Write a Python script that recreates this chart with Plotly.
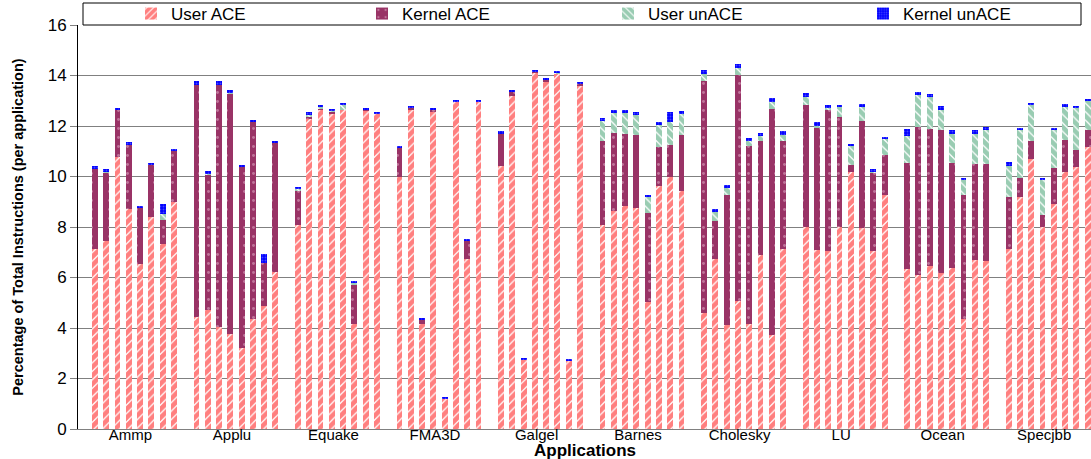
import plotly.graph_objects as go

apps = ["Ammp", "Applu", "Equake", "FMA3D", "Galgel", "Barnes", "Cholesky", "LU", "Ocean", "Specjbb"]
series_names = ["User ACE", "Kernel ACE", "User unACE", "Kernel unACE"]

user_ace = [
    7.13, 7.46, 10.77, 8.72, 6.55, 8.38, 7.34, 9.00,
    4.42, 4.70, 4.05, 3.77, 3.19, 4.36, 4.86, 6.23,
    8.06, 12.28, 12.67, 12.49, 12.65, 4.16, 12.62, 12.47,
    9.98, 12.67, 4.17, 12.55, 1.19, 12.94, 6.73, 12.98,
    10.43, 13.20, 2.72, 14.10, 13.75, 14.07, 2.68, 13.61,
    8.06, 8.63, 8.82, 8.76, 5.03, 9.64, 9.98, 9.44,
    4.59, 6.73, 4.13, 5.08, 4.17, 6.88, 3.73, 7.13,
    8.00, 7.10, 7.06, 8.00, 10.16, 7.96, 7.06, 9.28,
    6.34, 6.10, 6.44, 6.18, 6.38, 4.36, 6.70, 6.67,
    7.13, 9.17, 10.69, 8.00, 8.92, 10.19, 10.36, 11.17,
]
kernel_ace = [
    3.17, 2.70, 1.88, 2.54, 2.19, 2.07, 0.95, 2.00,
    9.19, 5.37, 9.56, 9.50, 7.17, 7.78, 1.71, 5.10,
    1.39, 0.10, 0.03, 0.08, 0.00, 1.58, 0.02, 0.00,
    1.16, 0.05, 0.16, 0.08, 0.00, 0.00, 0.73, 0.00,
    1.27, 0.15, 0.00, 0.04, 0.11, 0.00, 0.00, 0.06,
    3.33, 3.10, 2.88, 2.90, 3.51, 1.53, 1.28, 2.22,
    9.18, 1.52, 5.12, 8.95, 7.02, 4.51, 8.96, 4.26,
    4.82, 4.85, 5.56, 4.34, 0.31, 4.22, 3.08, 1.58,
    4.19, 5.88, 5.44, 5.67, 4.15, 4.92, 3.81, 3.84,
    2.07, 0.79, 0.70, 0.49, 1.40, 1.24, 0.70, 0.66,
]
user_unace = [
    0.00, 0.03, 0.00, 0.00, 0.00, 0.00, 0.24, 0.00,
    0.00, 0.04, 0.00, 0.05, 0.00, 0.00, 0.00, 0.00,
    0.05, 0.06, 0.07, 0.04, 0.19, 0.03, 0.00, 0.00,
    0.00, 0.00, 0.00, 0.00, 0.00, 0.00, 0.00, 0.00,
    0.00, 0.00, 0.00, 0.00, 0.00, 0.05, 0.00, 0.00,
    0.79, 0.78, 0.81, 0.77, 0.63, 0.88, 0.91, 0.83,
    0.30, 0.33, 0.28, 0.28, 0.23, 0.23, 0.26, 0.27,
    0.33, 0.06, 0.08, 0.40, 0.75, 0.56, 0.05, 0.66,
    1.09, 1.23, 1.27, 0.80, 1.17, 0.57, 1.19, 1.34,
    1.20, 1.89, 1.43, 1.36, 1.53, 1.31, 1.65, 1.15,
]
kernel_unace = [
    0.10, 0.09, 0.07, 0.09, 0.08, 0.08, 0.39, 0.08,
    0.18, 0.12, 0.18, 0.12, 0.11, 0.11, 0.37, 0.09,
    0.10, 0.10, 0.07, 0.07, 0.08, 0.08, 0.08, 0.08,
    0.08, 0.08, 0.05, 0.08, 0.09, 0.08, 0.08, 0.04,
    0.09, 0.09, 0.09, 0.05, 0.04, 0.07, 0.09, 0.08,
    0.15, 0.14, 0.14, 0.14, 0.11, 0.12, 0.40, 0.12,
    0.16, 0.14, 0.14, 0.16, 0.10, 0.11, 0.16, 0.13,
    0.16, 0.15, 0.14, 0.10, 0.07, 0.12, 0.12, 0.06,
    0.27, 0.15, 0.10, 0.13, 0.13, 0.09, 0.13, 0.13,
    0.19, 0.08, 0.10, 0.08, 0.08, 0.12, 0.09, 0.09,
]

BARS_PER_APP = 8
SLOTS_PER_APP = BARS_PER_APP + 1
xpos = [g * SLOTS_PER_APP + j for g in range(len(apps)) for j in range(BARS_PER_APP)]
tick_pos = [g * SLOTS_PER_APP + (BARS_PER_APP - 1) / 2 - 0.35 for g in range(len(apps))]

styles = [
    dict(color="white", pattern=dict(shape="/", fgcolor="#ff0000", bgcolor="white", size=6, solidity=0.8)),
    dict(color="#993366", pattern=dict(shape=".", fgcolor="#e8b8d0", bgcolor="#993366", size=9, solidity=0.08)),
    dict(color="white", pattern=dict(shape="\\", fgcolor="#339966", bgcolor="white", size=6, solidity=0.8)),
    dict(color="#0000ff", pattern=dict(shape=".", fgcolor="#9090ff", bgcolor="#0000ff", size=3, solidity=0.3)),
]
legend_ids = ["legend", "legend2", "legend3", "legend4"]
legend_sym_px = [151, 382, 628, 883]

FONT = "Liberation Sans, Arial, sans-serif"
L, T, B = 78, 25, 30
W, H = 1091, 459
pw, ph = W - L, H - T - B

fig = go.Figure()
for name, vals, st, lg in zip(series_names, [user_ace, kernel_ace, user_unace, kernel_unace], styles, legend_ids):
    fig.add_trace(go.Bar(
        x=xpos, y=vals, name=name, width=0.52, legend=lg,
        marker=dict(color=st["color"], pattern=st["pattern"], line=dict(width=0)),
    ))

legend_common = dict(
    orientation="h", xanchor="left", y=1 + 11 / ph, yanchor="middle",
    itemwidth=30, font=dict(size=17, family=FONT),
    bgcolor="rgba(0,0,0,0)", borderwidth=0,
)
layout_legends = {}
for lg, px in zip(legend_ids, legend_sym_px):
    layout_legends[lg] = dict(legend_common, x=(px - 20 - L) / pw)

fig.update_layout(
    width=W, height=H,
    barmode="stack",
    margin=dict(l=L, r=0, t=T, b=B, pad=0, autoexpand=False),
    paper_bgcolor="white", plot_bgcolor="white",
    font=dict(family=FONT, size=16, color="black"),
    showlegend=True,
    shapes=[dict(
        type="rect", xref="paper", yref="paper",
        x0=(83 - L) / pw, x1=(1081 - L) / pw, y0=1, y1=1 + 22 / ph,
        line=dict(color="black", width=1), fillcolor="rgba(0,0,0,0)", layer="above",
    )],
    annotations=[dict(
        text="<b>Applications</b>", xref="paper", yref="paper",
        x=0.5, y=-(450 - (H - B)) / ph, xanchor="center", yanchor="middle",
        showarrow=False, borderpad=0, font=dict(size=17, family=FONT, color="black"),
    )],
    bargap=0,
    **layout_legends,
)

fig.update_xaxes(
    range=[-1.5, 88.3],
    tickvals=tick_pos, ticktext=apps,
    tickfont=dict(size=15, family=FONT),
    ticks="", showgrid=False, zeroline=False,
    showline=True, linecolor="#808080", linewidth=1,
    ticklabelstandoff=-8,
)
fig.update_yaxes(
    range=[0, 16], dtick=2, tick0=0,
    tickfont=dict(size=17, family=FONT),
    ticks="outside", ticklen=7, tickcolor="#808080",
    showgrid=True, gridcolor="#808080", gridwidth=1,
    zeroline=False, showline=True, linecolor="black", linewidth=1,
    title=dict(text="<b>Percentage of Total Instructions (per application)</b>",
               font=dict(size=14.5, family=FONT), standoff=20),
)

fig.write_html("out.html")
